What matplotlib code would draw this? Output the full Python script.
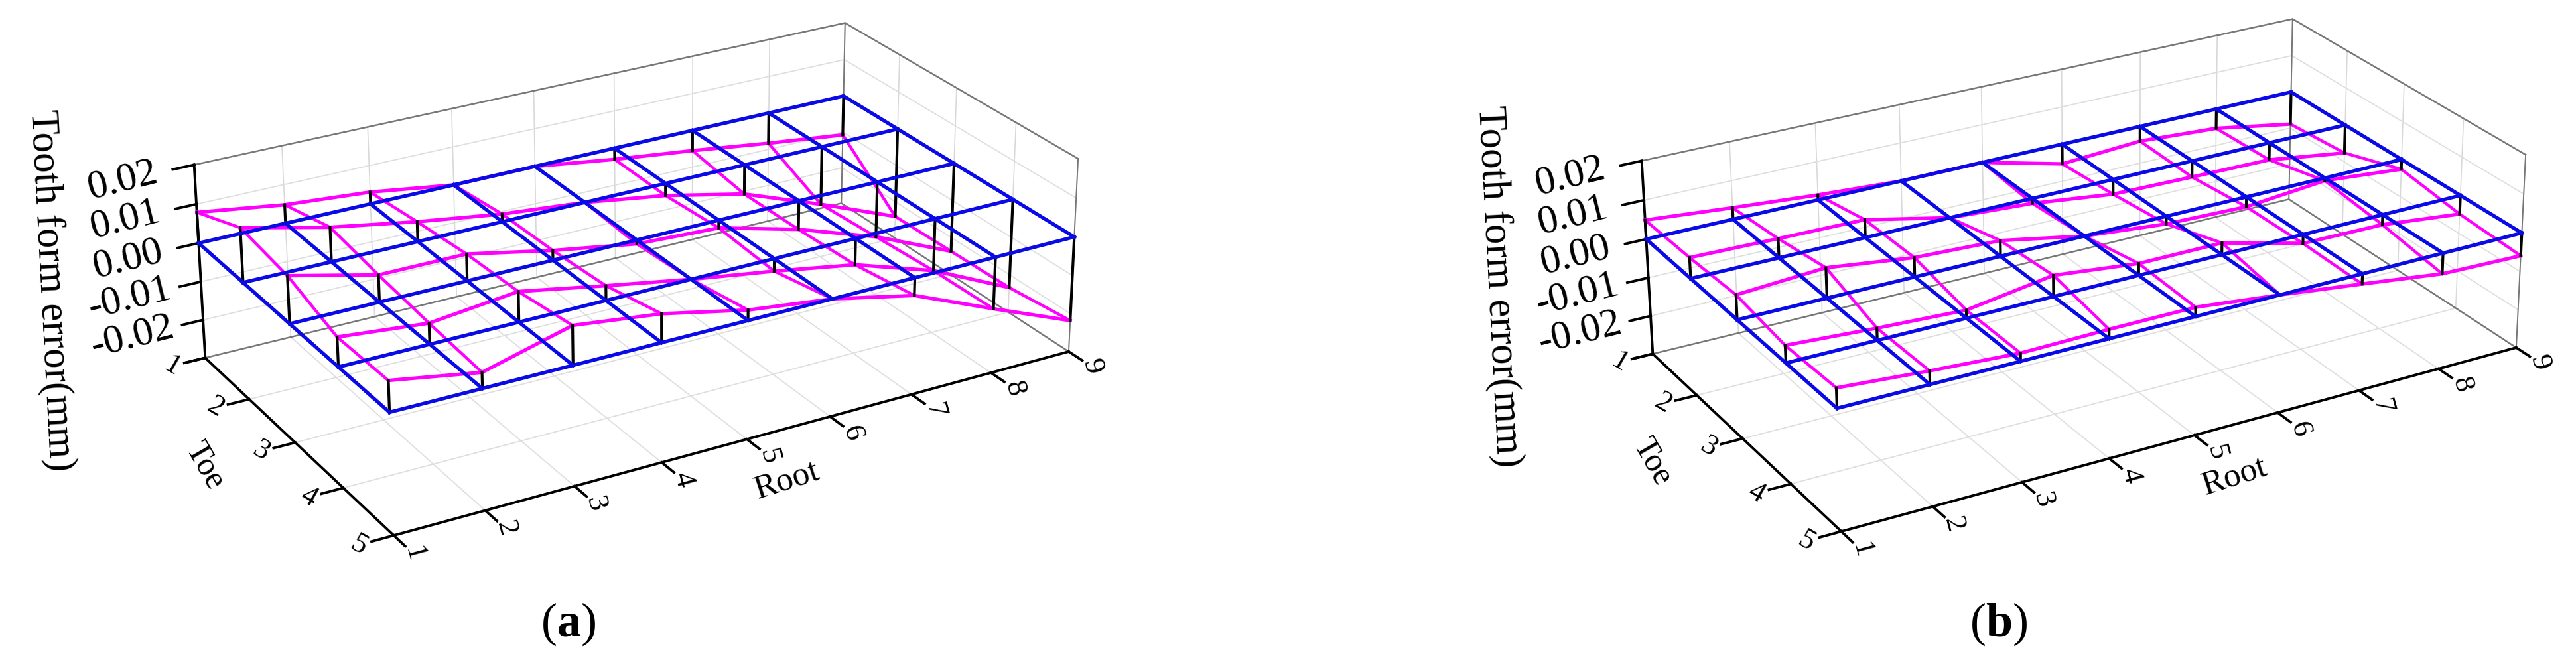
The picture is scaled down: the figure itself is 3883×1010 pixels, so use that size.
import numpy as np
import matplotlib
matplotlib.use('Agg')
import matplotlib.pyplot as plt
from mpl_toolkits.mplot3d import proj3d

W, H = 3883, 1010
plt.rcParams['font.family'] = ['Liberation Serif', 'DejaVu Serif']
plt.rcParams['mathtext.fontset'] = 'custom'
plt.rcParams['mathtext.rm'] = 'Liberation Serif'
plt.rcParams['mathtext.bf'] = 'Liberation Serif:bold'

root = np.arange(1, 10)
toe = np.arange(1, 6)
z_ticks = [0.02, 0.01, 0.00, -0.01, -0.02]
z_low = -0.03

# tooth form error, one row per toe position, one column per root position
err_a = np.array([
    [.0079, .0048, .0031, .0000, .0000, -.0030, -.0055, -.0083, -.0108],
    [.0138, .0088, .0051, .0020, .0000, -.0032, -.0078, -.0156, -.0240],
    [.0119, .0068, .0068, .0025, -.0010, -.0020, -.0075, -.0146, -.0237],
    [.0073, .0052, .0076, .0037, .0000, -.0032, -.0068, -.0136, -.0234],
    [.0076, .0039, .0097, .0071, .0026, .0000, -.0045, -.0133, -.0218],
])
err_b = np.array([
    [.0049, .0030, .0013, .0000, .0000, -.0053, -.0040, -.0053, -.0089],
    [.0053, .0049, .0046, .0000, -.0013, -.0039, -.0043, -.0046, -.0076],
    [.0062, .0076, .0049, .0040, .0000, -.0020, -.0026, -.0007, -.0026],
    [.0043, .0030, .0020, .0053, .0030, .0030, -.0023, -.0026, -.0049],
    [.0049, .0033, .0020, .0023, .0023, .0000, -.0026, -.0053, -.0059],
])

fig = plt.figure(figsize=(W / 100, H / 100), dpi=100)


def panel(err, left, bottom):
    S = 1315.74
    ax = fig.add_axes([left / W, bottom / H, S / W, S / H], projection='3d')
    ax.set_xlim(1, 9)
    ax.set_ylim(5, 1)
    ax.set_zlim(z_low, 0.02)
    ax.view_init(24.86, -119.67, 0.24)
    ax.set_proj_type('persp', focal_length=0.808)
    ax.set_box_aspect((3.584, 2.009, 1))
    ax.set_axis_off()
    ax.computed_zorder = False

    def line(x, y, z, c, lw, zo):
        ax.plot(x, y, z, color=c, lw=lw, zorder=zo, clip_on=False)

    # Text3D throws away rotation, so project the point and use text2D
    def label(x, y, z, s, size, rot):
        px, py, _ = proj3d.proj_transform(x, y, z, ax.get_proj())
        ax.text2D(px, py, s, transform=ax.transData, fontsize=size, rotation=rot,
                  ha='center', va='center', rotation_mode='anchor')

    # walls and floor
    for r in root:
        line([r, r], [1, 5], [z_low, z_low], '#dedede', 1.3, 1)
        line([r, r], [1, 1], [z_low, 0.02], '#d8d8d8', 1.2, 1)
    for t in toe:
        line([1, 9], [t, t], [z_low, z_low], '#dedede', 1.3, 1)
        line([9, 9], [t, t], [z_low, 0.02], '#d8d8d8', 1.2, 1)
    for z in z_ticks:
        line([1, 9], [1, 1], [z, z], '#dedede', 1.3, 1)
        line([9, 9], [1, 5], [z, z], '#dedede', 1.3, 1)
    frame = '#777777'
    line([1, 9, 9], [1, 1, 5], [0.02, 0.02, 0.02], frame, 1.8, 2)
    line([1, 9, 9], [1, 1, 5], [z_low, z_low, z_low], frame, 1.8, 2)
    line([9, 9], [1, 1], [z_low, 0.02], frame, 1.4, 2)
    line([9, 9], [5, 5], [z_low, 0.02], frame, 1.4, 2)

    # axes and ticks
    line([1, 1], [1, 1], [z_low, 0.02], 'black', 2.8, 3)
    line([1, 1], [1, 5], [z_low, z_low], 'black', 2.8, 3)
    line([1, 9], [5, 5], [z_low, z_low], 'black', 2.8, 3)
    for z in z_ticks + [z_low]:
        line([0.76, 1], [1, 1], [z, z], 'black', 2.8, 3)
    for z in z_ticks:
        label(0.2, 1, z, '%.2f' % z, 44, 14)
    for t in toe:
        line([0.76, 1], [t, t], [z_low, z_low], 'black', 2.8, 3)
        label(0.62, t, z_low, str(t), 32, -30)
    for r in root:
        line([r, r], [5, 5.22], [z_low, z_low], 'black', 2.8, 3)
        label(r, 5.38, z_low, str(r), 32, -75)
    label(0.0, 3, z_low, 'Toe', 36, -60)
    label(4.88, 5.86, z_low, 'Root', 37, 18)

    # measured surface, stems, zero plane
    zero = np.zeros(9)
    for i, t in enumerate(toe):
        line(root, np.full(9, t), err[i], '#ff00ff', 3.8, 4)
    for j, r in enumerate(root):
        line(np.full(5, r), toe, err[:, j], '#ff00ff', 3.2, 4)
    for i, t in enumerate(toe):
        for j, r in enumerate(root):
            line([r, r], [t, t], [err[i, j], 0], 'black', 3.0, 5)
    for t in toe:
        line(root, np.full(9, t), zero, '#0a0ae6', 3.9, 6)
    for r in root:
        line(np.full(5, r), toe, np.zeros(5), '#0a0ae6', 3.9, 6)

    fig.text((76 + left - 284.33) / W, 1 - (438 - (bottom + 56.62)) / H, 'Tooth form error(mm)',
             fontsize=44, rotation=-87, ha='center', va='center')


panel(err_a, 284.33, -56.62)
panel(err_b, 2466.33, -50.62)

fig.text(857 / W, 1 - 941 / H, r'$\mathrm{(}\mathbf{a}\mathrm{)}$', fontsize=52, ha='center', va='center')
fig.text(3013 / W, 1 - 941 / H, r'$\mathrm{(}\mathbf{b}\mathrm{)}$', fontsize=52, ha='center', va='center')

fig.savefig('out.png', dpi=100)
